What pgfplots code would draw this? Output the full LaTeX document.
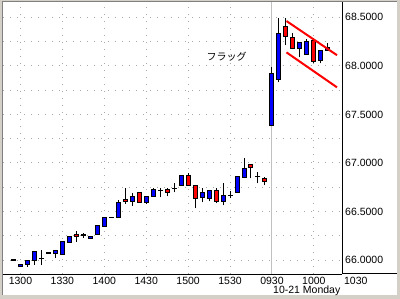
\documentclass[border=0pt]{standalone}
\usepackage{fontspec}
\setmainfont{Liberation Sans}
\newfontfamily\jp{Noto Sans CJK JP}
\usepackage{pgfplots}
\usepackage{pgfplotstable}
\pgfplotsset{compat=1.18}
\definecolor{winbg}{HTML}{D4D0C8}
\definecolor{gridc}{HTML}{A8A8A8}
\definecolor{sepc}{HTML}{C0C0C0}
\definecolor{cblue}{HTML}{0000FF}
\definecolor{cred}{HTML}{FF0000}

% t: 1 = up (blue), 2 = down (red), 0 = doji / dash
\pgfplotstableread{
i  O      H      L      C      t
-1 66.000 66.000 66.000 66.000 0
0  65.931 65.960 65.928 65.959 1
1  65.956 66.000 65.930 65.997 1
2  66.000 66.085 65.950 66.083 1
3  66.018 66.103 65.946 66.018 0
4  66.072 66.072 66.072 66.072 0
5  66.065 66.095 66.020 66.093 1
6  66.059 66.190 66.050 66.186 1
7  66.182 66.250 66.180 66.247 1
8  66.268 66.296 66.190 66.244 2
9  66.258 66.278 66.230 66.258 0
10 66.220 66.250 66.220 66.244 1
11 66.265 66.360 66.262 66.357 1
12 66.347 66.442 66.345 66.440 1
13 66.435 66.435 66.435 66.435 0
14 66.440 66.615 66.440 66.594 1
15 66.625 66.742 66.580 66.600 2
16 66.600 66.687 66.560 66.656 1
17 66.697 66.700 66.590 66.590 2
18 66.590 66.660 66.580 66.656 1
19 66.656 66.740 66.656 66.728 1
20 66.718 66.739 66.646 66.718 0
21 66.728 66.739 66.656 66.697 2
22 66.739 66.790 66.697 66.739 0
23 66.770 66.875 66.770 66.873 1
24 66.873 66.893 66.770 66.770 2
25 66.770 66.772 66.533 66.636 2
26 66.646 66.739 66.594 66.697 1
27 66.636 66.720 66.605 66.718 1
28 66.718 66.739 66.584 66.605 2
29 66.605 66.790 66.563 66.667 1
30 66.667 66.708 66.636 66.667 0
31 66.697 66.862 66.690 66.862 1
32 66.852 67.048 66.842 66.945 1
33 66.986 66.990 66.842 66.955 2
34 66.862 66.903 66.790 66.862 0
35 66.842 66.852 66.770 66.811 2
36 67.388 67.990 67.385 67.923 1
37 67.861 68.490 67.830 68.335 1
38 68.407 68.490 68.210 68.304 2
39 68.294 68.335 68.170 68.181 2
40 68.181 68.245 68.088 68.242 1
41 68.119 68.273 68.119 68.253 1
42 68.263 68.284 68.026 68.047 2
43 68.057 68.160 68.026 68.160 1
44 68.160 68.232 68.160 68.191 1
}\candles

\begin{document}
\begin{tikzpicture}
\fill[winbg] (0,0) rectangle (400bp,299bp);
\fill[white] (3bp,4bp) rectangle (397bp,297bp);
\draw[gray, line width=1bp] (2.5bp,4bp) -- (2.5bp,297.5bp) -- (397bp,297.5bp);
\begin{axis}[
  at={(3bp,25bp)}, anchor=south west,
  scale only axis, width=339bp, height=272bp,
  xmin=-2.505, xmax=46.03, ymin=65.856, ymax=68.658,
  axis x line=bottom, axis y line=right,
  axis line style={-, line width=1bp, black},
  xtick={0,6,12,18,24,30,42},
  xticklabels={1300,1330,1400,1430,1500,1530,1000},
  extra x ticks={36}, extra x tick labels={0930},
  extra x tick style={major grid style={solid, draw=sepc, line width=1bp}},
  ytick={66,66.5,67,67.5,68,68.5},
  minor ytick={66.25,66.75,67.25,67.75,68.25},
  xmajorgrids, ymajorgrids, yminorgrids,
  major grid style={draw=gridc, line width=1bp, dash pattern=on 1bp off 6bp},
  minor grid style={draw=gridc, line width=1bp, dash pattern=on 1bp off 6bp},
  major tick length=0pt, minor tick length=0pt,
  tick label style={font=\fontsize{10.5bp}{12bp}\selectfont},
  xticklabel style={anchor=base, yshift=-10.7bp},
  yticklabel style={anchor=west, inner sep=0pt, xshift=3bp,
    /pgf/number format/.cd, fixed, fixed zerofill, precision=4, assume math mode=true},
]
% wicks
\addplot[black, line width=1bp, quiver={u=0, v=\thisrow{H}-\thisrow{L}}]
  table[x=i, y=L] {\candles};
% blue bodies
\addplot[black, line width=5bp,
  quiver={u=0, v=\thisrow{C}-\thisrow{O},
    every arrow/.append style={line width=5bp, shorten <=-0.5bp, shorten >=-0.5bp}},
  x filter/.expression={\thisrow{t}==1 ? x : nan}]
  table[x=i, y=O] {\candles};
\addplot[cblue, line width=3bp,
  quiver={u=0, v=\thisrow{C}-\thisrow{O},
    every arrow/.append style={line width=3bp, shorten <=0.5bp, shorten >=0.5bp}},
  x filter/.expression={\thisrow{t}==1 ? x : nan}]
  table[x=i, y=O] {\candles};
% red bodies
\addplot[black, line width=5bp,
  quiver={u=0, v=\thisrow{C}-\thisrow{O},
    every arrow/.append style={line width=5bp, shorten <=-0.5bp, shorten >=-0.5bp}},
  x filter/.expression={\thisrow{t}==2 ? x : nan}]
  table[x=i, y=O] {\candles};
\addplot[cred, line width=3bp,
  quiver={u=0, v=\thisrow{C}-\thisrow{O},
    every arrow/.append style={line width=3bp, shorten <=0.5bp, shorten >=0.5bp}},
  x filter/.expression={\thisrow{t}==2 ? x : nan}]
  table[x=i, y=O] {\candles};
% doji
\addplot[black, only marks, mark=-, mark size=2.5bp, mark options={line width=1.2bp},
  x filter/.expression={\thisrow{t}==0 ? x : nan}]
  table[x=i, y=O] {\candles};
% flag lines
\addplot[cred, line width=2bp] coordinates {(38.08,68.462) (45.31,68.110)};
\addplot[cred, line width=2bp] coordinates {(38.08,68.139) (45.31,67.779)};
\node[font=\jp\fontsize{10bp}{12bp}\selectfont] at (axis cs:29.52,68.094) {フラッグ};
\end{axis}
\draw[black, line width=1bp] (342bp,25bp) -- (397bp,25bp);
\node[font=\fontsize{10.5bp}{12bp}\selectfont, anchor=base] at (355.8bp,14.3bp) {1030};
\node[font=\fontsize{10.5bp}{12bp}\selectfont, anchor=base west, inner sep=0pt] at (273bp,5.7bp) {10-21 Monday};
\end{tikzpicture}
\end{document}
